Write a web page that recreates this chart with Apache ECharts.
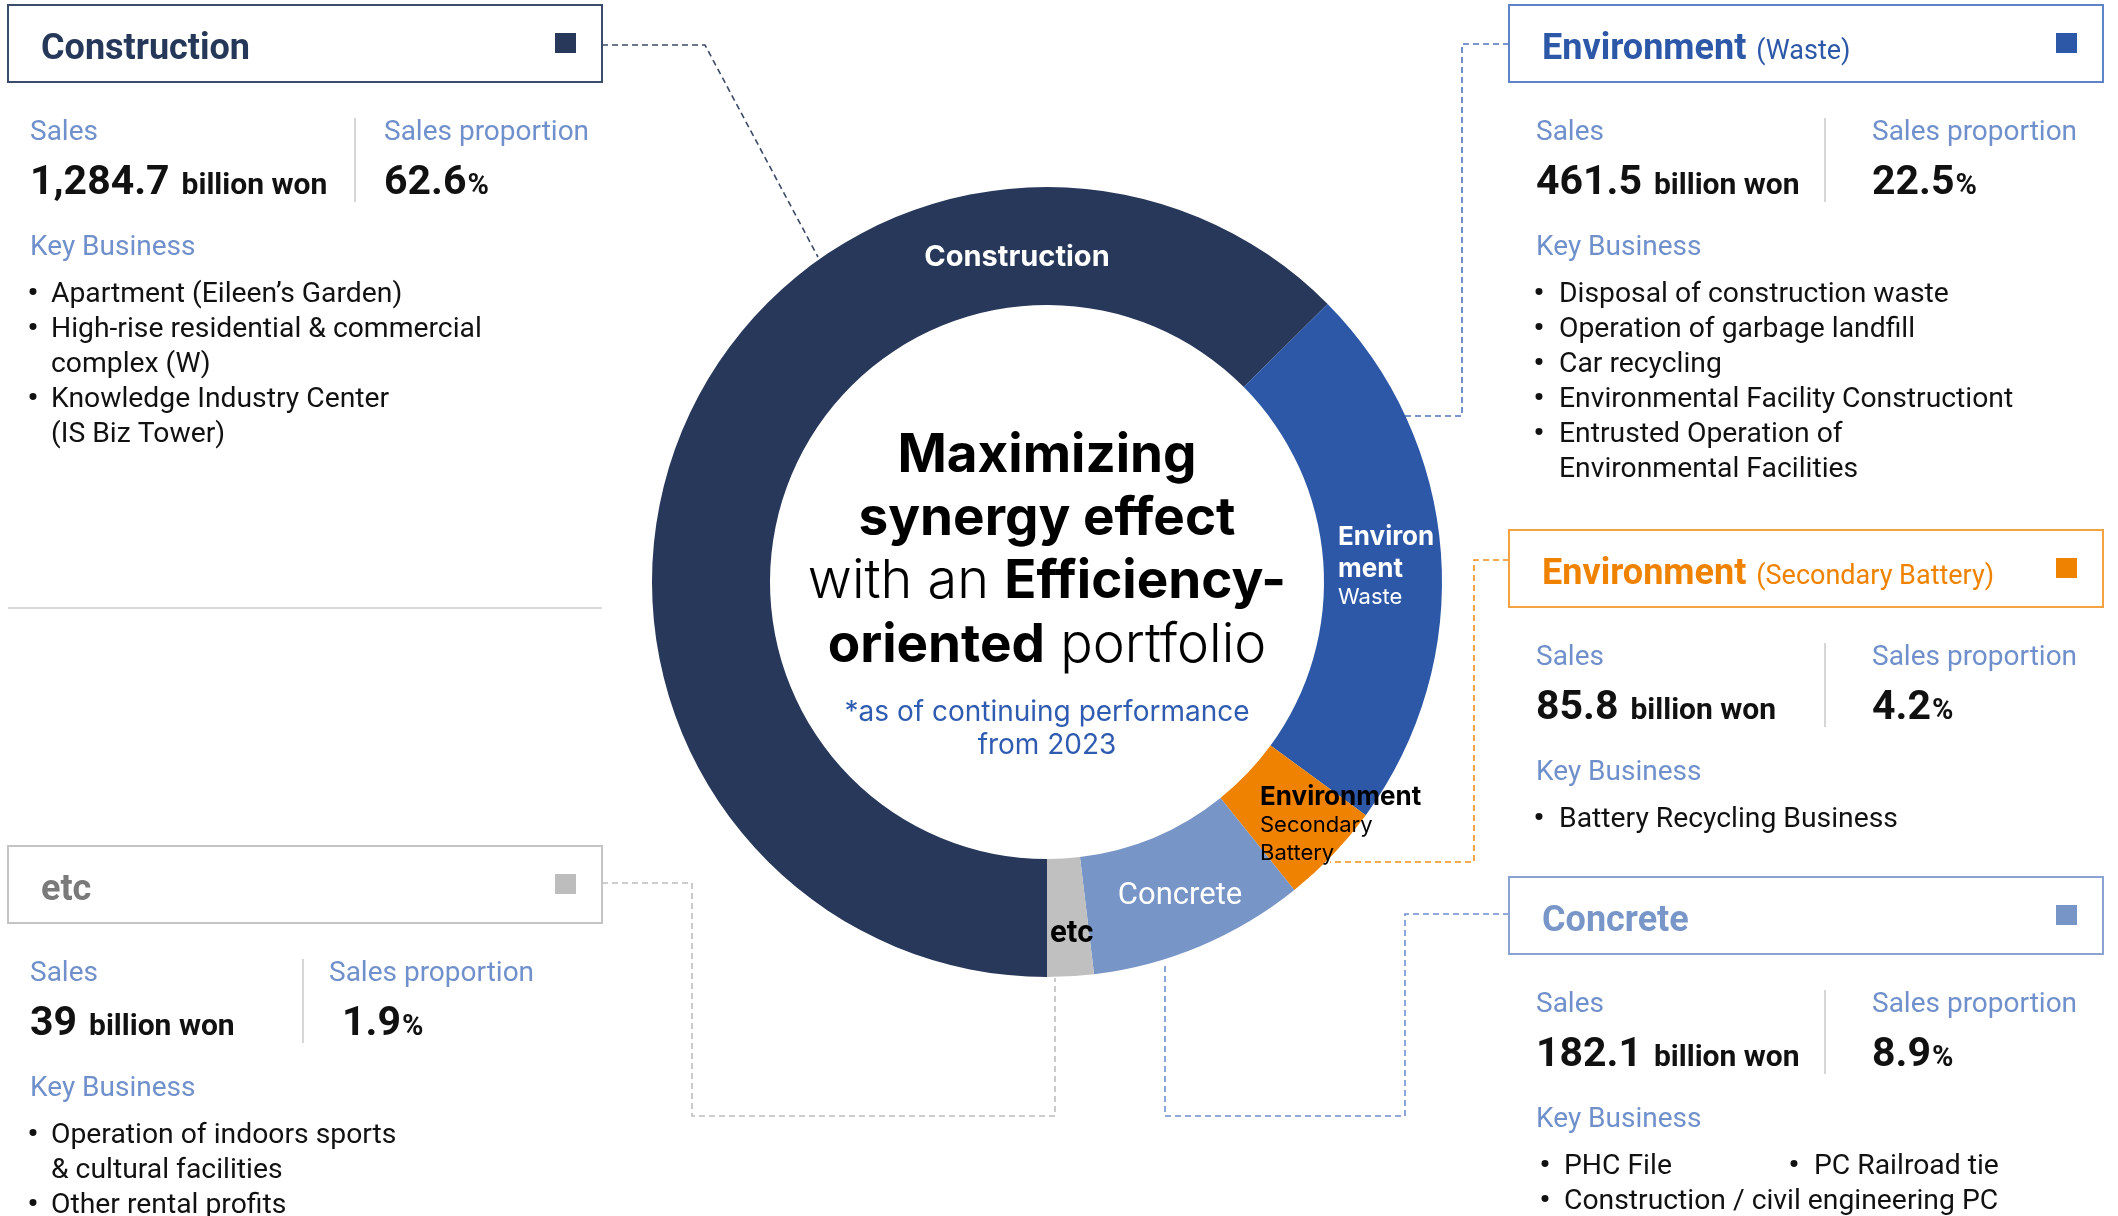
<!DOCTYPE html>
<html>
<head>
<meta charset="utf-8">
<script src="https://cdn.jsdelivr.net/npm/echarts@6/dist/echarts.min.js"></script>
<style>
html,body{margin:0;padding:0;background:#fff;}
#chart{width:2118px;height:1216px;}
</style>
</head>
<body>
<div id="chart"></div>
<script>
// ---------------- DATA ----------------
const categories = ['Construction', 'Environment (Waste)', 'Environment (Secondary Battery)', 'Concrete', 'etc'];
const salesValues = [1284.7, 461.5, 85.8, 182.1, 39];
const salesLabels = ['1,284.7', '461.5', '85.8', '182.1', '39'];
const proportionLabels = ['62.6', '22.5', '4.2', '8.9', '1.9'];
const panelTitleMain = ['Construction', 'Environment', 'Environment', 'Concrete', 'etc'];
const panelTitleSub = ['', '(Waste)', '(Secondary Battery)', '', ''];
const businessConstruction = ['• Apartment (Eileen’s Garden)', '• High-rise residential & commercial', 'complex (W)', '• Knowledge Industry Center', '(IS Biz Tower)'];
const businessWaste = ['• Disposal of construction waste', '• Operation of garbage landfill', '• Car recycling', '• Environmental Facility Constructiont', '• Entrusted Operation of', 'Environmental Facilities'];
const businessBattery = ['• Battery Recycling Business'];
const businessConcrete = ['• PHC File | • PC Railroad tie', '• Construction / civil engineering PC'];
const businessEtc = ['• Operation of indoors sports', '& cultural facilities', '• Other rental profits'];
const centerTitleLines = [
  [['Maximizing', 1]],
  [['synergy effect', 1]],
  [['with an ', 0], ['Efficiency-', 1]],
  [['oriented', 1], [' portfolio', 0]]
];
const centerNoteLines = ['*as of continuing performance', 'from 2023'];

// ---------------- STYLE ----------------
const segColors = ['#27385a', '#2d58a8', '#ef8200', '#7795c7', '#c0c0c0'];
const titleColors = ['#263859', '#2d58a8', '#ef8200', '#7896c8', '#7a7a7a'];
const borderColors = ['#3b4b6b', '#5f83c8', '#f4a340', '#8aa3d3', '#c4c4c4'];
const squareColors = ['#27385a', '#2d58a8', '#ef8200', '#7795c7', '#bdbdbd'];
const labelBlue = '#7090cb';
const ink = '#111111';
const PF = 'Roboto';
const CF = 'Inter';

const mctx = document.createElement('canvas').getContext('2d');
function fstr(size, weight, family) { return weight + ' ' + size + 'px ' + family; }
function measure(text, size, weight, family) {
  mctx.font = fstr(size, weight, family);
  mctx.textBaseline = 'alphabetic';
  return mctx.measureText(text).width;
}
function midOff(size, weight, family) {
  mctx.font = fstr(size, weight, family);
  mctx.textBaseline = 'middle';
  let d = mctx.measureText('H').actualBoundingBoxDescent;
  mctx.textBaseline = 'alphabetic';
  if (!(d > 0.15 * size && d < 0.5 * size)) d = 0.32 * size;
  return d;
}
function T(x, base, text, size, weight, color, family, align) {
  return {
    type: 'text', x: x, y: base - midOff(size, weight, family), z: 100, silent: true,
    style: {
      text: text, fill: color, fontSize: size, fontWeight: weight, fontFamily: family,
      textAlign: align || 'left', textVerticalAlign: 'middle', verticalAlign: 'middle'
    }
  };
}
function line(points, color, width, dash) {
  return {
    type: 'polyline', z: 1, silent: true,
    shape: { points: points },
    style: { stroke: color, lineWidth: width, fill: null, lineDash: dash || null }
  };
}

const graphics = [];

// ---------------- PANELS ----------------
const businessLists = [businessConstruction, businessWaste, businessBattery, businessConcrete, businessEtc];
const layout = [
  { bx: 8, by: 5, tx: 41, lx: 30, divX: 355, propX: 384, propValX: 384, cols: [[33, 51]] },
  { bx: 1509, by: 5, tx: 1542, lx: 1536, divX: 1825, propX: 1872, propValX: 1872, cols: [[1539, 1559]] },
  { bx: 1509, by: 530, tx: 1542, lx: 1536, divX: 1825, propX: 1872, propValX: 1872, cols: [[1539, 1559]] },
  { bx: 1509, by: 877, tx: 1542, lx: 1536, divX: 1825, propX: 1872, propValX: 1872, cols: [[1545, 1564], [1794, 1814]] },
  { bx: 8, by: 846, tx: 41, lx: 30, divX: 303, propX: 329, propValX: 342, cols: [[33, 51]] }
];
const BW = 594, BH = 77;

layout.forEach(function (L, i) {
  graphics.push({ type: 'rect', z: 5, silent: true, shape: { x: L.bx, y: L.by, width: BW, height: BH },
    style: { fill: '#ffffff', stroke: borderColors[i], lineWidth: 2 } });
  const tb = L.by + 54;
  graphics.push(T(L.tx, tb, panelTitleMain[i], 36, 'bold', titleColors[i], PF));
  if (panelTitleSub[i]) {
    const w = measure(panelTitleMain[i], 36, 'bold', PF);
    graphics.push(T(L.tx + w + 10, tb, panelTitleSub[i], 27, 'normal', titleColors[i], PF));
  }
  graphics.push({ type: 'rect', z: 6, silent: true,
    shape: { x: L.bx + BW - 47, y: L.by + 28, width: 21, height: 20 },
    style: { fill: squareColors[i] } });
  graphics.push(T(L.lx, L.by + 135, 'Sales', 28, 'normal', labelBlue, PF));
  graphics.push(T(L.propX, L.by + 135, 'Sales proportion', 28, 'normal', labelBlue, PF));
  const vb = L.by + 189;
  graphics.push(T(L.lx, vb, salesLabels[i], 41, 'bold', ink, PF));
  const nw = measure(salesLabels[i], 41, 'bold', PF);
  graphics.push(T(L.lx + nw + 12, vb, 'billion won', 30, 'bold', ink, PF));
  graphics.push(T(L.propValX, vb, proportionLabels[i], 41, 'bold', ink, PF));
  const pw = measure(proportionLabels[i], 41, 'bold', PF);
  graphics.push(T(L.propValX + pw + 1, vb, '%', 29, 'bold', ink, PF));
  graphics.push(line([[L.divX, L.by + 113], [L.divX, L.by + 197]], '#d6d6d6', 2));
  graphics.push(T(L.lx, L.by + 250, 'Key Business', 28, 'normal', labelBlue, PF));
  businessLists[i].forEach(function (ln, j) {
    const base = L.by + 297 + j * 35;
    ln.split(' | ').forEach(function (cell, c) {
      const col = L.cols[c];
      if (cell.indexOf('• ') === 0) {
        graphics.push(T(col[0], base, '•', 30, 'bold', ink, PF, 'center'));
        graphics.push(T(col[1], base, cell.slice(2), 28.3, 'normal', ink, PF));
      } else {
        graphics.push(T(col[1], base, cell, 28.3, 'normal', ink, PF));
      }
    });
  });
});

graphics.push(line([[8, 608], [602, 608]], '#cccccc', 1.5));

// ---------------- CONNECTORS ----------------
const dash = [6, 4];
graphics.push(line([[602, 45], [705, 45], [818, 257]], '#3c4a66', 1.6, dash));
graphics.push(line([[1509, 44], [1462, 44], [1462, 416], [1405, 416]], '#4f74c0', 1.6, dash));
graphics.push(line([[1509, 560], [1474, 560], [1474, 862], [1330, 862]], '#f0901a', 1.6, dash));
graphics.push(line([[1509, 914], [1405, 914], [1405, 1116], [1165, 1116], [1165, 962]], '#6f8fd0', 1.6, dash));
graphics.push(line([[602, 883], [692, 883], [692, 1116], [1055, 1116], [1055, 978]], '#bdbdbd', 1.6, dash));

// ---------------- RING LABELS ----------------
graphics.push(T(1017, 266, 'Construction', 29, 'bold', '#ffffff', CF, 'center'));
graphics.push(T(1338, 545, 'Environ', 26, 'bold', '#ffffff', CF));
graphics.push(T(1338, 577, 'ment', 26, 'bold', '#ffffff', CF));
graphics.push(T(1338, 604, 'Waste', 22, 'normal', '#ffffff', CF));
graphics.push(T(1260, 805, 'Environment', 26, 'bold', '#000000', CF));
graphics.push(T(1260, 832, 'Secondary', 22, 'normal', '#000000', CF));
graphics.push(T(1260, 860, 'Battery', 22, 'normal', '#000000', CF));
graphics.push(T(1180, 904, 'Concrete', 31, 'normal', '#ffffff', PF, 'center'));
graphics.push(T(1050, 942, 'etc', 31, 'bold', '#000000', PF));

// ---------------- CENTER TEXT ----------------
const CX = 1047;
const titleBases = [472, 535, 598, 662];
centerTitleLines.forEach(function (parts, i) {
  const sz = function (p) { return p[1] ? 53 : 54; };
  const widths = parts.map(function (p) { return measure(p[0], sz(p), p[1] ? 'bold' : '300', CF); });
  const total = widths.reduce(function (a, b) { return a + b; }, 0);
  let x = CX - total / 2;
  parts.forEach(function (p, k) {
    graphics.push(T(x, titleBases[i], p[0], sz(p), p[1] ? 'bold' : '300', '#000000', CF));
    x += widths[k];
  });
});
graphics.push(T(CX, 721, centerNoteLines[0], 28, 'normal', '#2f5cb0', CF, 'center'));
graphics.push(T(CX, 754, centerNoteLines[1], 28, 'normal', '#2f5cb0', CF, 'center'));

// ---------------- CHART ----------------
const chart = echarts.init(document.getElementById('chart'), null, { renderer: 'canvas', width: 2118, height: 1216 });
chart.setOption({
  animation: false,
  backgroundColor: '#ffffff',
  series: [{
    type: 'pie',
    center: [1047, 582],
    radius: [277, 395],
    startAngle: 270,
    clockwise: true,
    silent: true,
    avoidLabelOverlap: false,
    label: { show: false },
    labelLine: { show: false },
    emphasis: { disabled: true },
    itemStyle: { borderWidth: 0 },
    data: categories.map(function (name, i) {
      return { name: name, value: salesValues[i], itemStyle: { color: segColors[i] } };
    })
  }],
  graphic: { elements: graphics }
});
</script>
</body>
</html>
